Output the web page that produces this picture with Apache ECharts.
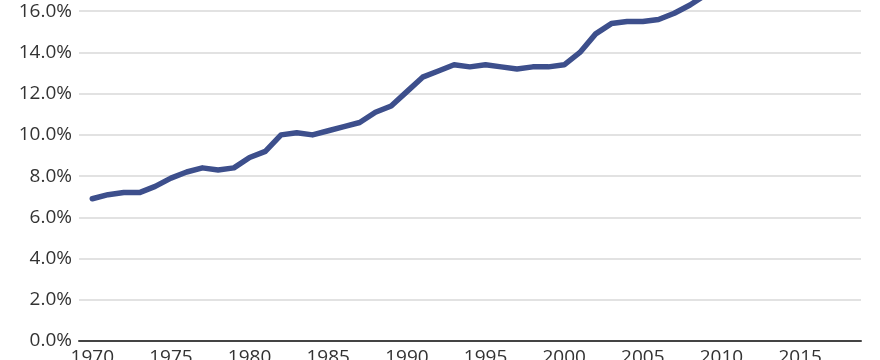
<!DOCTYPE html>
<html>
<head>
<meta charset="utf-8">
<script src="https://cdn.jsdelivr.net/npm/echarts@6/dist/echarts.min.js"></script>
<style>
html,body{margin:0;padding:0;background:#fff;}
#chart{width:880px;height:360px;}
</style>
</head>
<body>
<div id="chart"></div>
<script>
const years = [1970,1971,1972,1973,1974,1975,1976,1977,1978,1979,1980,1981,1982,1983,1984,1985,1986,1987,1988,1989,1990,1991,1992,1993,1994,1995,1996,1997,1998,1999,2000,2001,2002,2003,2004,2005,2006,2007,2008,2009];
const values = [6.9,7.1,7.2,7.2,7.5,7.9,8.2,8.4,8.3,8.4,8.9,9.2,10.0,10.1,10.0,10.2,10.4,10.6,11.1,11.4,12.1,12.8,13.1,13.4,13.3,13.4,13.3,13.2,13.3,13.3,13.4,14.0,14.9,15.4,15.5,15.5,15.6,15.9,16.3,16.8];
const xTickLabels = [1970,1975,1980,1985,1990,1995,2000,2005,2010,2015];

const chart = echarts.init(document.getElementById('chart'), null, {renderer:'canvas'});
const font = '"Open Sans", "Noto Sans", sans-serif';
chart.setOption({
  animation:false,
  backgroundColor:'#ffffff',
  grid:{left:79,right:19,top:-30,bottom:19,containLabel:false,outerBoundsMode:'none'},
  xAxis:{
    type:'value',
    min:1969.155,
    max:2018.87,
    axisLine:{show:true,lineStyle:{color:'#444444',width:2}},
    axisTick:{show:false},
    splitLine:{show:false},
    axisLabel:{
      customValues:xTickLabels,
      color:'#333333',fontSize:19,fontFamily:font,margin:7,
      formatter:v=>String(v)
    }
  },
  yAxis:{
    type:'value',
    min:0,max:18,interval:2,
    axisLine:{show:false},
    axisTick:{show:false},
    splitLine:{show:true,lineStyle:{color:'#d9d9d9',width:1.5}},
    axisLabel:{color:'#333333',fontSize:19,fontFamily:font,margin:7,
      formatter:v=>v.toFixed(1)+'%'}
  },
  series:[{
    type:'line',
    data:years.map((y,i)=>[y,values[i]]),
    symbol:'none',
    smooth:false,
    lineStyle:{color:'#3d4f8c',width:5.5,join:'round',cap:'round'},
    z:3
  }]
});
</script>
</body>
</html>
